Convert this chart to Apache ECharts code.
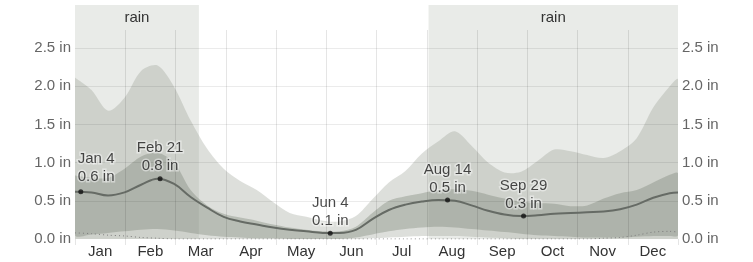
<!DOCTYPE html>
<html>
<head>
<meta charset="utf-8">
<script src="https://cdn.jsdelivr.net/npm/echarts@6/dist/echarts.min.js"></script>
<style>
html,body{margin:0;padding:0;background:#fff}
#c{width:753px;height:262px}
</style>
</head>
<body>
<div id="c"></div>
<script>
// ---- data (inches of rain, sliding 31-day) ----
const months = ['Jan','Feb','Mar','Apr','May','Jun','Jul','Aug','Sep','Oct','Nov','Dec'];
const days   = [0,10,20,30,40,50,60,70,80,90,100,110,120,130,140,150,160,170,180,190,200,210,220,230,240,250,260,270,280,290,300,310,320,330,340,350,360,365];
const p90    = [2.11,1.95,1.68,1.85,2.20,2.27,1.99,1.55,1.18,0.92,0.76,0.64,0.48,0.34,0.29,0.24,0.23,0.30,0.52,0.74,0.89,1.12,1.28,1.41,1.22,1.00,0.87,0.88,1.02,1.17,1.15,1.10,1.06,1.15,1.32,1.72,2.00,2.09];
const p75    = [0.83,0.80,0.80,0.92,1.08,1.13,1.00,0.64,0.44,0.33,0.28,0.24,0.19,0.15,0.12,0.10,0.10,0.16,0.34,0.50,0.56,0.60,0.64,0.65,0.63,0.58,0.53,0.49,0.47,0.46,0.43,0.44,0.53,0.60,0.64,0.74,0.84,0.86];
const median = [0.62,0.61,0.57,0.61,0.71,0.79,0.72,0.55,0.41,0.29,0.23,0.19,0.15,0.12,0.10,0.08,0.08,0.12,0.26,0.38,0.45,0.49,0.51,0.50,0.44,0.37,0.32,0.30,0.31,0.33,0.34,0.35,0.36,0.39,0.45,0.54,0.60,0.61];
const p25    = [0.05,0.06,0.08,0.10,0.12,0.13,0.11,0.08,0.05,0.03,0.02,0.01,0.01,0,0,0,0,0.02,0.06,0.10,0.13,0.15,0.16,0.15,0.13,0.11,0.09,0.07,0.05,0.04,0.03,0.02,0.02,0.02,0.03,0.04,0.04,0.05];
const p10    = [0,0,0,0,0,0,0,0,0,0,0,0,0,0,0,0,0,0,0.01,0.02,0.03,0.04,0.04,0.04,0.03,0.02,0.01,0,0,0,0,0,0,0,0,0,0,0];
const snow   = [0.08,0.07,0.05,0.04,0.02,0.01,0,0,0,0,0,0,0,0,0,0,0,0,0,0,0,0,0,0,0,0,0,0,0,0,0,0,0.01,0.02,0.05,0.09,0.10,0.09];
const markDays   = [3.5, 51.5, 154.5, 225.5, 271.5];
const markDates  = ['Jan 4','Feb 21','Jun 4','Aug 14','Sep 29'];
const markValues = [0.62, 0.79, 0.075, 0.51, 0.30];
const rainStartDay = 214;
const rainEndDay = 75;
const yTickStep = 0.5;

// ---- layout helpers ----
const plotTop = 5, gridTop = 30, plotBottom = 239, H = 262;
const pxPerIn = 76.4;
const yMaxGrid = (plotBottom - gridTop) / pxPerIn;
const yMaxPlot = (plotBottom - plotTop) / pxPerIn;

const pairs = arr => days.map((d, i) => [d, arr[i]]);

const lightBand = 'rgba(148,156,143,0.32)';
const darkBand = 'rgba(120,128,115,0.36)';
const gridCol = 'rgba(0,0,0,0.10)';

function bandSeries(lower, upper, color) {
  return {
    type: 'custom', xAxisIndex: 0, yAxisIndex: 0, z: 2, silent: true, clip: true,
    data: [0],
    renderItem: function (params, api) {
      const top = days.map((d, i) => api.coord([d, upper[i]]));
      const bot = days.map((d, i) => api.coord([d, lower[i]])).reverse();
      return {
        type: 'group',
        children: [
          {type: 'polyline', shape: {points: top.concat(bot).concat([top[0]]), smooth: 0.3},
           style: {fill: color, stroke: null}}
        ]
      };
    }
  };
}

const chart = echarts.init(document.getElementById('c'), null, {renderer: 'canvas'});
chart.setOption({
  animation: false,
  textStyle: {fontFamily: 'Liberation Sans, Arial, Helvetica, sans-serif'},
  grid: [
    {left: 75, right: 75, top: plotTop, bottom: H - plotBottom},
    {left: 75, right: 75, top: gridTop, bottom: H - plotBottom}
  ],
  xAxis: [
    {gridIndex: 0, type: 'value', min: 0, max: 365, show: false},
    {gridIndex: 1, type: 'category', data: months, boundaryGap: true, z: 3,
     axisLine: {show: false},
     axisTick: {show: true, length: 6, lineStyle: {color: gridCol}},
     splitLine: {show: true, showMinLine: false, showMaxLine: false, lineStyle: {color: gridCol}},
     axisLabel: {color: '#333', fontSize: 15, margin: 5}}
  ],
  yAxis: [
    {gridIndex: 0, type: 'value', min: 0, max: yMaxPlot, show: false},
    {gridIndex: 1, type: 'value', min: 0, max: yMaxGrid, interval: yTickStep, position: 'left', z: 3,
     axisLine: {show: false}, axisTick: {show: false},
     splitLine: {show: true, showMinLine: false, showMaxLine: false, lineStyle: {color: 'rgba(0,0,0,0.08)'}},
     axisLabel: {color: '#666', fontSize: 15, margin: 4, showMaxLabel: false,
                 formatter: v => v.toFixed(1) + ' in'}},
    {gridIndex: 1, type: 'value', min: 0, max: yMaxGrid, interval: yTickStep, position: 'right',
     axisLine: {show: false}, axisTick: {show: false}, splitLine: {show: false},
     axisLabel: {color: '#666', fontSize: 15, margin: 4, showMaxLabel: false,
                 formatter: v => v.toFixed(1) + ' in'}}
  ],
  series: [
    {type: 'line', xAxisIndex: 0, yAxisIndex: 0, data: [], z: 1, silent: true,
     markArea: {silent: true,
       itemStyle: {color: '#e9ebe8'},
       label: {show: true, position: 'insideTop', distance: 5, color: '#333', fontSize: 15},
       data: [
         [{name: 'rain', xAxis: 0}, {xAxis: rainEndDay}],
         [{name: 'rain', xAxis: rainStartDay}, {xAxis: 365}]
       ]}},
    bandSeries(p10, p90, lightBand),
    bandSeries(p25, p75, darkBand),
    {type: 'line', xAxisIndex: 0, yAxisIndex: 0, data: pairs(snow), smooth: 0.3,
     symbol: 'none', lineStyle: {color: '#7d7d7d', width: 1, type: [1, 3]}, z: 4, silent: true},
    {type: 'line', xAxisIndex: 0, yAxisIndex: 0, data: pairs(median), smooth: 0.4,
     symbol: 'none', lineStyle: {color: '#666b65', width: 2}, z: 4, silent: true},
    {type: 'scatter', xAxisIndex: 0, yAxisIndex: 0, symbolSize: 5, z: 5, silent: true,
     itemStyle: {color: '#111'},
     label: {show: true, position: 'top', distance: 1, color: '#1a1a1a', fontSize: 15, lineHeight: 18,
             align: 'center', textBorderColor: 'rgba(255,255,255,0.55)', textBorderWidth: 3,
             formatter: p => markDates[p.dataIndex] + '\n' + markValues[p.dataIndex].toFixed(1) + ' in'},
     data: markDays.map((d, i) => i === 0
       ? {value: [d, markValues[i]], label: {align: 'left', offset: [-3, -2]}}
       : {value: [d, markValues[i]]})}
  ]
});
</script>
</body>
</html>
